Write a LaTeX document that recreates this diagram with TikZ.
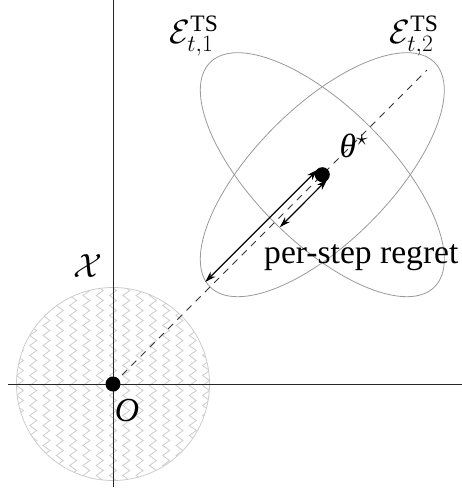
\RequirePackage{fix-cm}
\documentclass[tikz,border=0pt]{standalone}
\usepackage{fontspec}
\setmainfont{Liberation Serif}
\usetikzlibrary{arrows.meta,decorations.pathmorphing,calc}
\begin{document}
\begin{tikzpicture}[x=1pt,y=-1pt,
  font=\fontsize{33.6}{40}\selectfont,
  axis/.style={line width=0.9pt, black!85},
  ell/.style={line width=0.8pt, black!40},
  diag/.style={line width=0.9pt, black!80, dash pattern=on 7pt off 6pt},
  dot/.style={circle, fill=black, inner sep=0pt, minimum size=15pt},
  regarrow/.style={line width=1.2pt, {Stealth[length=11pt,width=7pt]}-{Stealth[length=11pt,width=7pt]}},
  zig/.style={black!20, line width=0.8pt, decorate, decoration={zigzag, segment length=10pt, amplitude=3.5pt}},
  lab/.style={inner sep=0pt}]
\useasboundingbox (0,0) rectangle (462,491);
% feasible set X
\begin{scope}
  \clip (113,384) circle (96.5pt);
  \foreach \k in {-8,...,8} \draw[zig] ({113+13.3*\k},278) -- ({113+13.3*\k},492);
\end{scope}
\draw[black!20, line width=0.8pt] (113,384) circle (96.5pt);
% axes
\coordinate (xl) at (8,384);
\coordinate (xr) at (462,384);
\coordinate (yt) at (113,0);
\coordinate (yb) at (113,487);
\draw[axis] (xl) -- (xr);
\draw[axis] (yt) -- (yb);
% ellipses
\coordinate (c) at (322.3,174.7);
\draw[ell] (c) ellipse [x radius=158.7pt, y radius=67.6pt, rotate=-45];
\draw[ell] (c) ellipse [x radius=158.7pt, y radius=67.6pt, rotate=45];
% diagonal
\coordinate (dend) at (427,70);
\draw[diag] (113,384) -- (dend);
% dots
\node[dot] (O) at (113,384) {};
\node[dot] (theta) at (c) {};
% arrows
\coordinate (la) at (317.4,169.8);
\coordinate (lb) at (205.3,281.9);
\coordinate (sa) at (327.2,179.6);
\coordinate (sb) at (279.9,227.1);
\draw[regarrow] (la) -- (lb);
\draw[regarrow] (sa) -- (sb);
% labels
\node[lab] (lX) at (88,266) {$\mathcal{X}$};
\node[lab] (lO) at (127,411) {\textit{O}};
\node[lab] (lE1) at (194,36) {$\mathcal{E}^{\mathrm{TS}}_{t,1}$};
\node[lab] (lE2) at (414,36) {$\mathcal{E}^{\mathrm{TS}}_{t,2}$};
\node[lab] (lth) at (354,146) {\textit{θ}$^\star$};
\node[lab, anchor=west] (lreg) at (264,258) {per-step regret};
\end{tikzpicture}
\end{document}
